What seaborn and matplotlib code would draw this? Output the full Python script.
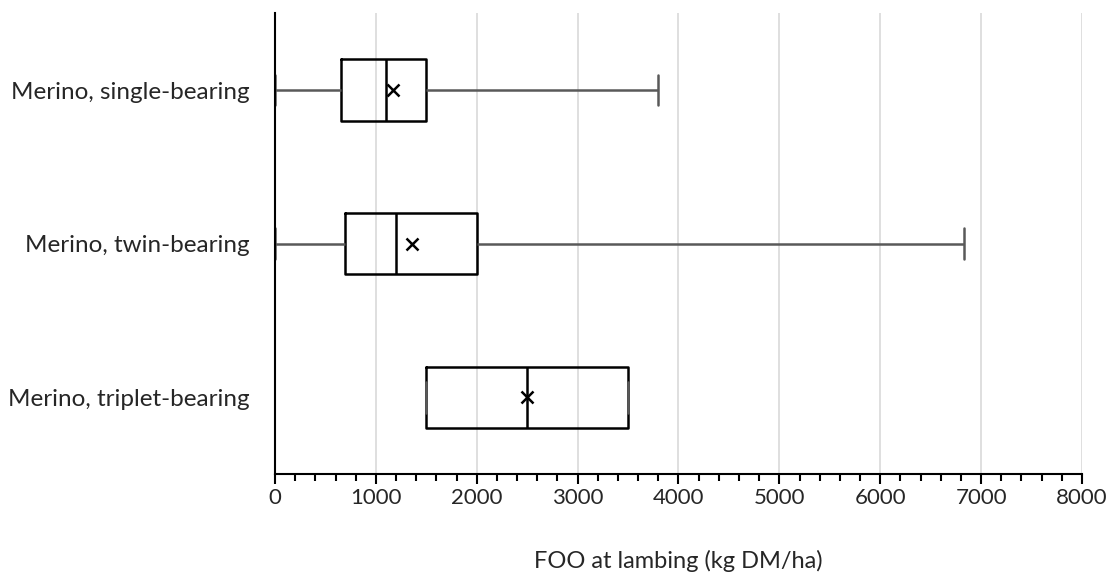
import numpy as np
import pandas as pd
import matplotlib
matplotlib.use('Agg')
import matplotlib.pyplot as plt
from matplotlib.ticker import MultipleLocator
import seaborn as sns

groups  = ['Merino, single-bearing', 'Merino, twin-bearing', 'Merino, triplet-bearing']
mins    = [0,    0,    1500]
q1s     = [650,  690,  1500]
medians = [1100, 1200, 2500]
q3s     = [1500, 2000, 3500]
maxs    = [3800, 6830, 3500]
means   = [1165, 1360, 2500]

# five-number summary per group as long data, quartiles come out exact with 5 points
rows = []
for g, a, b, c, d, e in zip(groups, mins, q1s, medians, q3s, maxs):
    for v in (a, b, c, d, e):
        rows.append({'group': g, 'foo': v})
df = pd.DataFrame(rows)
df_mean = pd.DataFrame({'group': groups, 'foo': means})

sns.set_theme(style='white')
plt.rcParams['font.family'] = ['Lato', 'DejaVu Sans']

fig, ax = plt.subplots(figsize=(11.12, 5.76), dpi=100)
fig.subplots_adjust(left=0.2473, right=0.973, top=0.977, bottom=0.177)

grey = '#595959'
sns.boxplot(data=df, x='foo', y='group', order=groups, orient='h', whis=(0, 100),
            width=0.40, fill=False, color='black', linewidth=1.8,
            whiskerprops={'color': grey, 'linewidth': 1.8},
            capprops={'color': grey, 'linewidth': 1.8},
            medianprops={'color': 'black', 'linewidth': 1.8},
            ax=ax)
sns.pointplot(data=df_mean, x='foo', y='group', order=groups, orient='h',
              linestyle='none', marker='x', markersize=8, markeredgewidth=1.8,
              color='black', errorbar=None, ax=ax)

ax.set_xlim(0, 8000)
ax.set_ylim(2.5, -0.5)
ax.xaxis.set_major_locator(MultipleLocator(1000))
ax.xaxis.set_minor_locator(MultipleLocator(200))
ax.grid(axis='x', which='major', color='#d9d9d9', linewidth=1.2)
ax.set_axisbelow(True)
for s in ['top', 'right']:
    ax.spines[s].set_visible(False)
for s in ['left', 'bottom']:
    ax.spines[s].set_color('black')
    ax.spines[s].set_linewidth(1.5)
ax.tick_params(axis='x', which='major', direction='out', length=7, width=1.5,
               color='black', labelsize=16, pad=3, bottom=True)
ax.tick_params(axis='x', which='minor', direction='out', length=5, width=1.5,
               color='black', bottom=True)
ax.tick_params(axis='y', length=0, labelsize=17.5, pad=18)
ax.set_ylabel('')
ax.set_xlabel('FOO at lambing (kg DM/ha)', fontsize=17, labelpad=30)

fig.savefig('out.png', dpi=100)
